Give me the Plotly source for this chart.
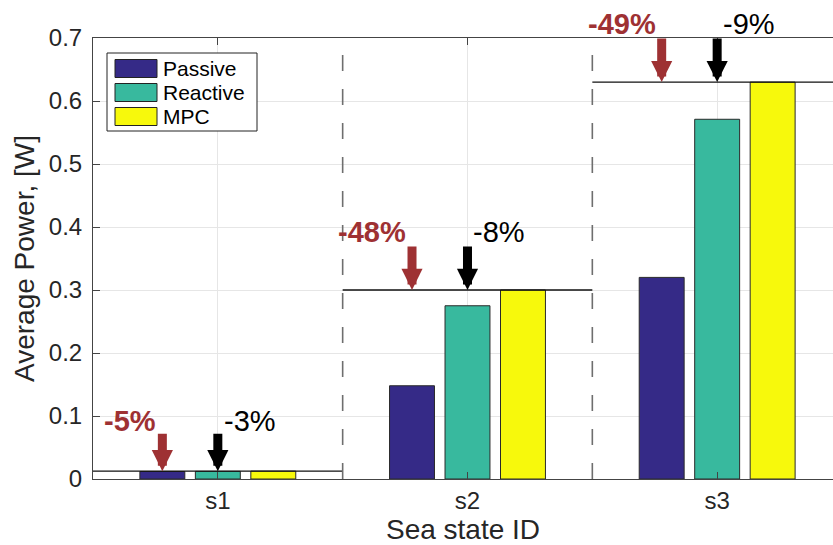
import plotly.graph_objects as go

categories = ["s1", "s2", "s3"]
x_pos = [1, 2, 3]
passive = [0.0119, 0.148, 0.320]
reactive = [0.0121, 0.275, 0.571]
mpc = [0.0125, 0.300, 0.630]
passive_pct = ["-5%", "-48%", "-49%"]
reactive_pct = ["-3%", "-8%", "-9%"]
y_ticks = [0, 0.1, 0.2, 0.3, 0.4, 0.5, 0.6, 0.7]
y_ticktext = ["0", "0.1", "0.2", "0.3", "0.4", "0.5", "0.6", "0.7"]
series_names = ["Passive", "Reactive", "MPC"]
series_colors = ["#352a87", "#38b99e", "#f7f90c"]

FONT = "Liberation Sans, Arial, Helvetica, sans-serif"
RED = "#9e3133"
slot = (1 - 1/3) / 3  # offset of a bar inside a group

# plot area in pixels (for the hand-made MATLAB-style legend)
L, T, W, H = 93, 38, 740, 441
def px(xp):
    return (xp - L) / W
def py(yp):
    return (T + H - yp) / H

fig = go.Figure()
for vals, name, col in zip([passive, reactive, mpc], series_names, series_colors):
    fig.add_bar(x=x_pos, y=vals, name=name, showlegend=False,
                marker=dict(color=col, line=dict(color="#2a2a2a", width=1)))

# reference lines at MPC level across each group
for xi, m in zip(x_pos, mpc):
    fig.add_trace(go.Scatter(x=[xi - 0.5, xi + 0.5], y=[m, m], mode="lines",
                             line=dict(color="#111111", width=1.3), showlegend=False, hoverinfo="skip"))

# dashed group separators
for xi in x_pos[:-1]:
    fig.add_trace(go.Scatter(x=[xi + 0.5, xi + 0.5], y=[y_ticks[0], y_ticks[-1]], mode="lines",
                             line=dict(color="#6e6e6e", width=1.6, dash="16px,18px"),
                             showlegend=False, hoverinfo="skip"))

arrow_len = [39, 45, 45]
text_shift = [50, 58, 58]
for i, (xi, m) in enumerate(zip(x_pos, mpc)):
    for dx, col, lab, anchor, xs, bold in [(-slot, RED, passive_pct[i], "right", -4, True),
                                           (0, "#000000", reactive_pct[i], "left", 4, False)]:
        fig.add_annotation(x=xi + dx, y=m, xref="x", yref="y", text="", showarrow=True,
                           ax=0, ay=-arrow_len[i], arrowhead=2, arrowsize=0.47, arrowwidth=9,
                           arrowcolor=col, standoff=0, startstandoff=0)
        fig.add_annotation(x=xi + dx, y=m, xref="x", yref="y",
                           text=("<b>%s</b>" % lab) if bold else lab, showarrow=False,
                           xanchor=anchor, yanchor="middle", xshift=xs, yshift=text_shift[i],
                           font=dict(family=FONT, size=29, color=col))

# MATLAB-style legend box
fig.add_shape(type="rect", xref="paper", yref="paper", x0=px(107), x1=px(257), y0=py(131), y1=py(53),
              line=dict(color="#222222", width=1), fillcolor="white", layer="above")
for k, (name, col) in enumerate(zip(series_names, series_colors)):
    top = 59.5 + 24 * k
    fig.add_shape(type="rect", xref="paper", yref="paper", x0=px(115), x1=px(157),
                  y0=py(top + 18), y1=py(top), line=dict(color="#222222", width=1),
                  fillcolor=col, layer="above")
    fig.add_annotation(xref="paper", yref="paper", x=px(161), y=py(top + 9), text=name,
                       showarrow=False, xanchor="left", yanchor="middle",
                       font=dict(family=FONT, size=21, color="#000000"))

fig.update_layout(
    width=833, height=545,
    margin=dict(l=L, r=0, t=T, b=545 - T - H),
    paper_bgcolor="white", plot_bgcolor="white",
    barmode="group", bargap=1/3, bargroupgap=0.19,
    font=dict(family=FONT, size=24, color="#262626"),
    showlegend=False,
)
fig.update_xaxes(range=[0.5, 3.464], tickvals=x_pos, ticktext=categories,
                 showgrid=True, gridcolor="#e6e6e6", gridwidth=1,
                 showline=True, linecolor="#444444", linewidth=1, mirror="ticks",
                 ticks="inside", ticklen=7, tickcolor="#444444", zeroline=False,
                 tickfont=dict(size=24, color="#262626"),
                 title=dict(text="Sea state ID", font=dict(size=28, color="#262626"), standoff=4))
fig.update_yaxes(range=[0, 0.7], tickvals=y_ticks, ticktext=y_ticktext,
                 showgrid=True, gridcolor="#e6e6e6", gridwidth=1,
                 showline=True, linecolor="#444444", linewidth=1, mirror=False,
                 ticklabelstandoff=5,
                 ticks="inside", ticklen=7, tickcolor="#444444", zeroline=False,
                 tickfont=dict(size=24, color="#262626"),
                 title=dict(text="Average Power, [W]", font=dict(size=28, color="#262626"), standoff=6))

fig.write_html("out.html")
